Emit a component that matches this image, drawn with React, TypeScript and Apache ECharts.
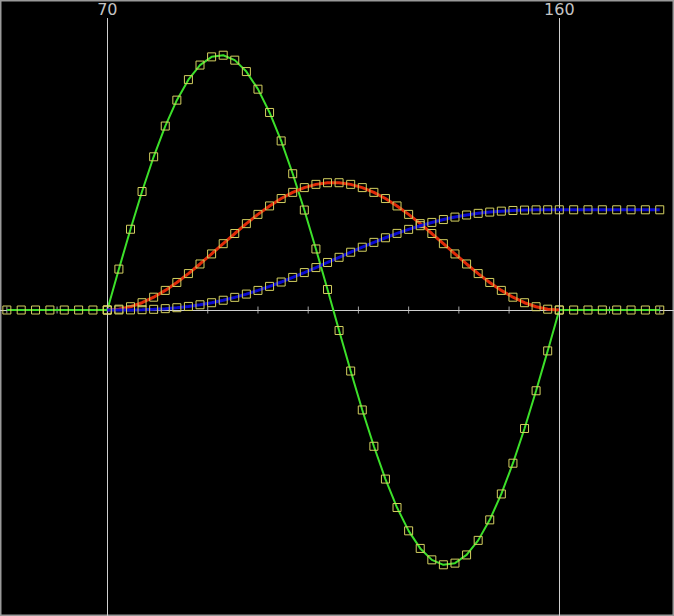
import React, { useEffect, useRef } from "react";
import * as echarts from "echarts";

// x positions of the samples
const xLeft = [50, 52.86, 55.71, 58.57, 61.43, 64.29, 67.14];
const xMid = [
  70, 72.31, 74.62, 76.92, 79.23, 81.54, 83.85, 86.15, 88.46, 90.77,
  93.08, 95.38, 97.69, 100, 102.31, 104.62, 106.92, 109.23, 111.54, 113.85,
  116.15, 118.46, 120.77, 123.08, 125.38, 127.69, 130, 132.31, 134.62, 136.92,
  139.23, 141.54, 143.85, 146.15, 148.46, 150.77, 153.08, 155.38, 157.69, 160,
];
const xRight = [162.86, 165.71, 168.57, 171.43, 174.29, 177.14, 180];

// green series
const greenLeft = [0, 0, 0, 0, 0, 0, 0];
const greenMid = [
  0, 0.1604, 0.3167, 0.4647, 0.6008, 0.7214, 0.823, 0.9034, 0.9605, 0.9927,
  0.9992, 0.9798, 0.935, 0.866, 0.7746, 0.6631, 0.5344, 0.392, 0.2393, 0.0805,
  -0.0805, -0.2393, -0.392, -0.5344, -0.6631, -0.7746, -0.866, -0.935, -0.9798, -0.9992,
  -0.9927, -0.9605, -0.9034, -0.823, -0.7214, -0.6008, -0.4647, -0.3167, -0.1604, 0,
];
const greenRight = [0, 0, 0, 0, 0, 0, 0];

// red series
const redMid = [
  0, 0.0032, 0.0129, 0.0286, 0.0502, 0.0769, 0.108, 0.1428, 0.1805, 0.2199,
  0.2601, 0.3, 0.3387, 0.375, 0.4081, 0.4371, 0.4613, 0.48, 0.4927, 0.4992,
  0.4992, 0.4927, 0.48, 0.4613, 0.4371, 0.4081, 0.375, 0.3387, 0.3, 0.2601,
  0.2199, 0.1805, 0.1428, 0.108, 0.0769, 0.0502, 0.0286, 0.0129, 0.0032, 0,
];

// blue series
const blueMid = [
  0, 0.0001, 0.0004, 0.0012, 0.0027, 0.0053, 0.009, 0.014, 0.0205, 0.0286,
  0.0383, 0.0496, 0.0624, 0.0768, 0.0926, 0.1097, 0.1278, 0.1468, 0.1664, 0.1864,
  0.2066, 0.2266, 0.2462, 0.2652, 0.2833, 0.3004, 0.3162, 0.3306, 0.3434, 0.3547,
  0.3644, 0.3725, 0.379, 0.384, 0.3877, 0.3903, 0.3918, 0.3927, 0.393, 0.393,
];
const blueRight = [0.393, 0.393, 0.393, 0.393, 0.393, 0.393, 0.393];

// axis ticks and marked values
const tickValues = [50, 60, 70, 80, 90, 100, 110, 120, 130, 140, 150, 160, 170, 180];
const markedValues = [70, 160];

const zip = (xs: number[], ys: number[]) => xs.map((x, i) => [x, ys[i]]);

export default function App() {
  const ref = useRef<HTMLDivElement>(null);

  useEffect(() => {
    document.body.style.margin = "0";
    const chart = echarts.init(ref.current!, undefined, { renderer: "svg" });

    const xMin = 48.635;
    const xMax = 182.84;
    const yMin = -1.2;
    const yMax = 1.2157;
    const lineTop = 1.145;

    const markerStyle = {
      color: "rgba(0,0,0,0)",
      borderColor: "#d4d060",
      borderWidth: 1,
    };

    chart.setOption({
      animation: false,
      backgroundColor: "#000",
      grid: {
        left: 0,
        right: 0,
        top: 0,
        bottom: 0,
        show: true,
        borderColor: "#999",
        borderWidth: 3,
        backgroundColor: "#000",
      },
      xAxis: {
        type: "value",
        min: xMin,
        max: xMax,
        axisLine: { show: true, onZero: true, lineStyle: { color: "#cfcfcf", width: 1 } },
        axisTick: { show: false },
        axisLabel: { show: false },
        splitLine: { show: false },
      },
      yAxis: {
        type: "value",
        min: yMin,
        max: yMax,
        axisLine: { show: false },
        axisTick: { show: false },
        axisLabel: { show: false },
        splitLine: { show: false },
      },
      series: [
        {
          type: "scatter",
          z: 1,
          silent: true,
          symbol: "rect",
          symbolSize: [1, 7],
          itemStyle: { color: "#cfcfcf" },
          data: tickValues.map((v) => [v, 0]),
          markLine: {
            silent: true,
            symbol: ["none", "none"],
            lineStyle: { color: "#cfcfcf", width: 1, type: "solid" },
            label: {
              show: true,
              position: "end",
              distance: 1,
              color: "#c4c4c4",
              fontSize: 16,
              lineHeight: 16,
              fontFamily: "DejaVu Sans",
              formatter: (p: any) => String(p.data.value ?? p.value),
            },
            data: markedValues.map((v) => [
              { coord: [v, yMin], value: v },
              { coord: [v, lineTop], value: v },
            ]),
          },
        },
        {
          type: "line",
          z: 3,
          data: [
            ...zip(xLeft, greenLeft),
            ...zip(xMid, greenMid),
            ...zip(xRight, greenRight),
          ],
          symbol: "rect",
          symbolSize: 8,
          showAllSymbol: true,
          lineStyle: { color: "#3ce02a", width: 2 },
          itemStyle: markerStyle,
        },
        {
          type: "line",
          z: 4,
          data: zip(xMid, redMid),
          symbol: "rect",
          symbolSize: 8,
          showAllSymbol: true,
          lineStyle: { color: "#e02a08", width: 3 },
          itemStyle: markerStyle,
        },
        {
          type: "line",
          z: 5,
          data: [...zip(xMid, blueMid), ...zip(xRight, blueRight)],
          symbol: "rect",
          symbolSize: 8,
          showAllSymbol: true,
          lineStyle: { color: "#0a0ad0", width: 3 },
          itemStyle: markerStyle,
        },
      ],
    });

    return () => chart.dispose();
  }, []);

  return <div ref={ref} style={{ width: 674, height: 616 }} />;
}
